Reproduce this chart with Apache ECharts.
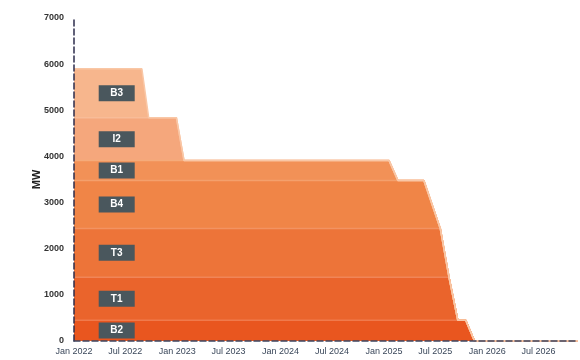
<!DOCTYPE html>
<html>
<head>
<meta charset="utf-8">
<style>
  html, body { margin: 0; padding: 0; background: #ffffff; }
  #chart { width: 580px; height: 360px; }
</style>
<script src="https://cdn.jsdelivr.net/npm/echarts@6/dist/echarts.min.js"></script>
</head>
<body>
<div id="chart"></div>
<script>
// Capacity roll-off (MW) per unit, stacked. Each series holds its level at
// the shared change dates below and falls to zero when the unit retires.
const dates = [
  '2022-01-01', '2022-08-29', '2022-09-22', '2022-12-29', '2023-01-25',
  '2025-01-19', '2025-02-19', '2025-05-22', '2025-07-19', '2025-08-19',
  '2025-09-19', '2025-10-17', '2025-11-17', '2026-11-18'
];

const seriesNames = ['B2', 'T1', 'T3', 'B4', 'B1', 'I2', 'B3'];

const b2 = [450, 450, 450, 450, 450, 450, 450, 450, 450, 450, 450, 450, 0, 0];
const t1 = [930, 930, 930, 930, 930, 930, 930, 930, 930, 930, 0, 0, 0, 0];
const t3 = [1060, 1060, 1060, 1060, 1060, 1060, 1060, 1060, 1060, 0, 0, 0, 0, 0];
const b4 = [1040, 1040, 1040, 1040, 1040, 1040, 1040, 1040, 0, 0, 0, 0, 0, 0];
const b1 = [430, 430, 430, 430, 430, 430, 0, 0, 0, 0, 0, 0, 0, 0];
const i2 = [930, 930, 930, 930, 0, 0, 0, 0, 0, 0, 0, 0, 0, 0];
const b3 = [1060, 1060, 0, 0, 0, 0, 0, 0, 0, 0, 0, 0, 0, 0];

const yTicks = [0, 1000, 2000, 3000, 4000, 5000, 6000, 7000];
const monthNames = ['Jan', 'Feb', 'Mar', 'Apr', 'May', 'Jun', 'Jul', 'Aug', 'Sep', 'Oct', 'Nov', 'Dec'];
const labelDate = '2022-06-01';
const axisStart = '2022-01-01';
const axisEnd = '2026-11-18';

const colors = ['#e9561f', '#ea642c', '#ed7439', '#f08547', '#f29157', '#f5a77c', '#f7b68d'];
const edgeColors = ['#f07a4c', '#f08558', '#f29362', '#f4a06c', '#f5ab7a', '#f8bc98', '#f9c7a6'];

const DAY = 24 * 3600 * 1000;
function toTime(s) {
  const [y, m, d] = s.split('-').map(Number);
  return Date.UTC(y, m - 1, d);
}

const xs = dates.map(toTime);
const layers = [b2, t1, t3, b4, b1, i2, b3];
const labelX = toTime(labelDate);

// Vertical centre of each band at the label position, from the stacked values.
let base = 0;
const labelY = layers.map(vals => {
  const mid = base + vals[0] / 2;
  base += vals[0];
  return mid;
});

const areaSeries = layers.map((vals, i) => ({
  name: seriesNames[i],
  type: 'line',
  stack: 'capacity',
  showSymbol: false,
  symbol: 'none',
  silent: true,
  z: 2,
  lineStyle: { width: 1.5, color: edgeColors[i] },
  areaStyle: { color: colors[i], opacity: 1 },
  data: vals.map((v, k) => [xs[k], v])
}));

// Name tags sitting in the middle of each band.
const tagSeries = {
  name: 'tags',
  type: 'scatter',
  silent: true,
  z: 10,
  symbol: 'rect',
  symbolSize: [36, 16],
  itemStyle: { color: '#4a575d', opacity: 1 },
  label: {
    show: true,
    position: 'inside',
    color: '#ffffff',
    fontSize: 10,
    fontWeight: 'bold',
    fontFamily: 'Liberation Sans Narrow, Liberation Sans, Arial, sans-serif',
    formatter: p => p.name
  },
  data: seriesNames.map((n, i) => ({ name: n, value: [labelX, labelY[i]] }))
};

const chart = echarts.init(document.getElementById('chart'), null, { renderer: 'canvas', useUTC: true });
chart.setOption({
  useUTC: true,
  backgroundColor: '#ffffff',
  animation: false,
  grid: { left: 74, right: 2, top: 18, bottom: 19, containLabel: false },
  xAxis: {
    type: 'time',
    z: 5,
    min: toTime(axisStart),
    max: toTime(axisEnd),
    minInterval: 180 * DAY,
    maxInterval: 185 * DAY,
    axisLine: { show: true, onZero: false, lineStyle: { color: '#3c4660', type: 'dashed', width: 1.5 } },
    axisTick: { show: false },
    minorTick: { show: false },
    splitLine: { show: false },
    axisLabel: {
      showMaxLabel: false,
      margin: 6,
      fontSize: 9,
      color: '#3a475a',
      fontFamily: 'Liberation Sans Narrow, Liberation Sans, Arial, sans-serif',
      formatter: v => {
        const d = new Date(v);
        return monthNames[d.getUTCMonth()] + ' ' + d.getUTCFullYear();
      }
    }
  },
  yAxis: {
    type: 'value',
    z: 5,
    min: yTicks[0],
    max: yTicks[yTicks.length - 1],
    interval: 1000,
    name: 'MW',
    nameLocation: 'middle',
    nameRotate: 90,
    nameGap: 32,
    nameMoveOverlap: false,
    nameTextStyle: { fontSize: 11, fontWeight: 'bold', color: '#222', fontFamily: 'Liberation Sans, Arial, sans-serif' },
    axisLine: { show: true, lineStyle: { color: '#2c2c4c', type: 'dashed', width: 1.5 } },
    axisTick: { show: false },
    splitLine: { show: false },
    axisLabel: {
      margin: 10,
      fontSize: 9,
      fontWeight: 'bold',
      color: '#333333',
      fontFamily: 'Liberation Sans Narrow, Liberation Sans, Arial, sans-serif',
      formatter: v => String(v)
    }
  },
  series: areaSeries.concat([tagSeries])
});
</script>
</body>
</html>
